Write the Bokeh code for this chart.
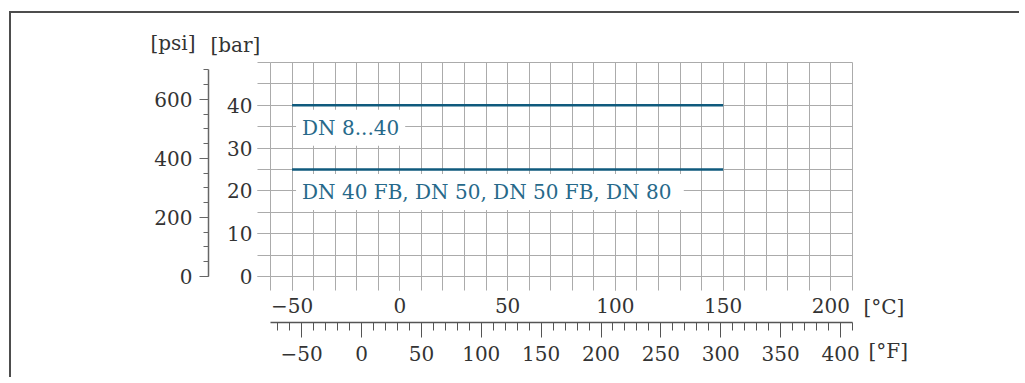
from bokeh.plotting import figure
from bokeh.models import (LinearAxis, Range1d, FixedTicker, Label, Title,
                          Grid, ColumnDataSource)
from bokeh.embed import file_html
from bokeh.resources import INLINE

# ---------------- data ----------------
temp_start_c = [-50, -50]
temp_end_c = [150, 150]
pressure_bar = [40, 25]
series_labels = ["DN 8...40", "DN 40 FB,  DN 50, DN 50 FB, DN 80"]
label_bar = [35, 20]

c_ticks = [-50, 0, 50, 100, 150, 200]
f_ticks = [-50, 0, 50, 100, 150, 200, 250, 300, 350, 400]
bar_ticks = [0, 10, 20, 30, 40]
psi_ticks = [0, 200, 400, 600]

C_MIN, C_MAX = -60, 210
BAR_MIN, BAR_MAX = 0, 50
PSI_PER_BAR = 14.5038

FONT = "DejaVu Serif"
TXT = "#333333"
GRID = "#ababab"
LINE = "#0f5a7d"
LBL = "#27698a"
FRAME = "#4d4d4d"

def c_to_f(c):
    return c * 1.8 + 32

p = figure(width=1010, height=366, output_backend="svg", toolbar_location=None,
           x_range=Range1d(C_MIN, C_MAX), y_range=Range1d(BAR_MIN, BAR_MAX),
           x_axis_type=None, y_axis_type=None,
           min_border_left=259, min_border_right=169,
           min_border_top=49, min_border_bottom=103)
p.outline_line_color = GRID
p.background_fill_color = "white"
p.border_fill_color = "white"
p.styles = {"margin-left": "9px", "margin-top": "11px",
            "border-left": f"2px solid {FRAME}", "border-top": f"2px solid {FRAME}"}

p.extra_y_ranges = {"psi": Range1d(BAR_MIN * PSI_PER_BAR, BAR_MAX * PSI_PER_BAR)}
p.extra_x_ranges = {"F": Range1d(c_to_f(C_MIN), c_to_f(C_MAX))}

# grid
p.add_layout(Grid(dimension=0, ticker=FixedTicker(ticks=list(range(C_MIN, C_MAX + 1, 10))),
                  grid_line_color=GRID, grid_line_width=1))
p.add_layout(Grid(dimension=1, ticker=FixedTicker(ticks=list(range(BAR_MIN, BAR_MAX + 1, 5))),
                  grid_line_color=GRID, grid_line_width=1))

def style_axis(ax):
    ax.major_label_text_font = FONT
    ax.major_label_text_font_size = "20px"
    ax.major_label_text_color = TXT
    ax.major_tick_in = 0
    ax.minor_tick_in = 0

# bar axis (inner left)
bar_ax = LinearAxis(ticker=FixedTicker(ticks=bar_ticks, minor_ticks=list(range(BAR_MIN, BAR_MAX + 1, 5))))
style_axis(bar_ax)
bar_ax.axis_line_color = None
bar_ax.major_tick_out = 13
bar_ax.minor_tick_out = 13
bar_ax.major_tick_line_color = GRID
bar_ax.minor_tick_line_color = GRID
bar_ax.major_label_standoff = 5
bar_ax.axis_label = " "
bar_ax.axis_label_text_font_size = "10px"
bar_ax.axis_label_standoff = 2
p.add_layout(bar_ax, "left")

# psi axis (outer left)
psi_ax = LinearAxis(y_range_name="psi", bounds=(0, 700),
                    ticker=FixedTicker(ticks=psi_ticks, minor_ticks=list(range(0, 701, 50))))
style_axis(psi_ax)
psi_ax.axis_line_color = "#666666"
psi_ax.axis_line_width = 1.5
psi_ax.major_tick_out = 9
psi_ax.minor_tick_out = 5
psi_ax.major_tick_line_color = "#666666"
psi_ax.minor_tick_line_color = "#666666"
psi_ax.major_label_standoff = 7
p.add_layout(psi_ax, "left")

# celsius axis (inner below)
c_ax = LinearAxis(ticker=FixedTicker(ticks=c_ticks, minor_ticks=list(range(C_MIN, C_MAX + 1, 10))))
style_axis(c_ax)
c_ax.axis_line_color = None
c_ax.major_tick_out = 14
c_ax.minor_tick_out = 14
c_ax.major_tick_line_color = GRID
c_ax.minor_tick_line_color = GRID
c_ax.major_label_standoff = 7
c_ax.axis_label = " "
c_ax.axis_label_text_font_size = "2px"
c_ax.axis_label_standoff = 2
p.add_layout(c_ax, "below")

# fahrenheit axis (outer below)
f_ax = LinearAxis(x_range_name="F", bounds=(-80, 410),
                  ticker=FixedTicker(ticks=f_ticks, minor_ticks=list(range(-80, 411, 10))))
style_axis(f_ax)
f_ax.axis_line_color = "#555555"
f_ax.axis_line_width = 1.5
f_ax.major_tick_out = 15
f_ax.minor_tick_out = 8
f_ax.major_tick_line_color = "#555555"
f_ax.minor_tick_line_color = "#555555"
f_ax.major_label_standoff = 8
p.add_layout(f_ax, "below")

# series lines
src = ColumnDataSource(dict(x0=temp_start_c, x1=temp_end_c, y=pressure_bar))
p.segment(x0="x0", y0="y", x1="x1", y1="y", source=src, line_color=LINE, line_width=2.6)

for txt, yb, xs in zip(series_labels, label_bar, temp_start_c):
    p.add_layout(Label(x=xs, y=yb, text=txt, text_font=FONT, text_font_size="20px",
                       text_color=LBL, text_align="left", text_baseline="middle",
                       x_offset=4, y_offset=-1, background_fill_color="white", padding=6))

# unit texts (titles placed in the side panels)
def unit_title(txt, offset, standoff, valign):
    return Title(text=txt, align="left", offset=offset, standoff=standoff,
                 vertical_align=valign, text_font=FONT, text_font_size="20px",
                 text_font_style="normal", text_color=TXT)

p.add_layout(unit_title("[bar]", -60, 11, "bottom"), "above")
p.add_layout(unit_title("[psi]", -120, -58, "bottom"), "above")
p.add_layout(unit_title("[°C]", 593, -137.5, "top"), "below")
p.add_layout(unit_title("[°F]", 598, -50, "top"), "below")

open("out.html", "w").write(file_html(p, INLINE))
